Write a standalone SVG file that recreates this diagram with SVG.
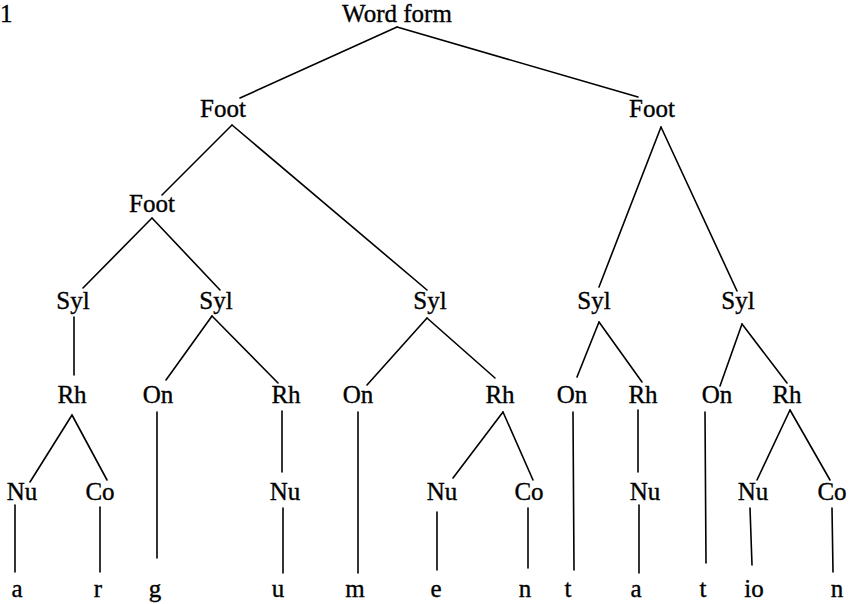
<svg xmlns="http://www.w3.org/2000/svg" width="853" height="604" viewBox="0 0 853 604">
  <style>
    text { font-family: "Liberation Serif", "Times New Roman", serif; font-size: 25px; fill: #000; stroke: #000; stroke-width: 0.35; text-anchor: middle; }
    #edges line { stroke: #000; stroke-width: 1.6; stroke-linecap: round; }
  </style>
  <rect width="853" height="604" fill="#fff"/>

  <text x="0" y="22" style="text-anchor:start">1</text>

  <!-- connectors -->
  <g id="edges">
    <line x1="397" y1="27" x2="240" y2="98"/>
    <line x1="397" y1="27" x2="638" y2="97"/>
    <line x1="232" y1="125" x2="162" y2="195"/>
    <line x1="232" y1="125" x2="427" y2="290"/>
    <line x1="661" y1="127" x2="599" y2="287"/>
    <line x1="661" y1="127" x2="737" y2="291"/>
    <line x1="152" y1="218" x2="83" y2="288"/>
    <line x1="152" y1="218" x2="220" y2="290"/>
    <line x1="74" y1="317" x2="74" y2="375"/>
    <line x1="212" y1="316" x2="166" y2="380"/>
    <line x1="212" y1="316" x2="278" y2="383"/>
    <line x1="427" y1="318" x2="367" y2="385"/>
    <line x1="427" y1="318" x2="495" y2="378"/>
    <line x1="599" y1="322" x2="577" y2="377"/>
    <line x1="599" y1="322" x2="642" y2="382"/>
    <line x1="742" y1="324" x2="720" y2="386"/>
    <line x1="742" y1="324" x2="787" y2="383"/>
    <line x1="72" y1="415" x2="30" y2="482"/>
    <line x1="72" y1="415" x2="107" y2="480"/>
    <line x1="157" y1="412" x2="157" y2="558"/>
    <line x1="282" y1="411" x2="282" y2="472"/>
    <line x1="358" y1="412" x2="358" y2="573"/>
    <line x1="503" y1="412" x2="453" y2="478"/>
    <line x1="503" y1="412" x2="533" y2="480"/>
    <line x1="573" y1="412" x2="574" y2="570"/>
    <line x1="638" y1="410" x2="638" y2="472"/>
    <line x1="705" y1="412" x2="706" y2="563"/>
    <line x1="790" y1="410" x2="757" y2="480"/>
    <line x1="790" y1="410" x2="830" y2="480"/>
    <line x1="15" y1="505" x2="15" y2="572"/>
    <line x1="100" y1="507" x2="100" y2="572"/>
    <line x1="283" y1="508" x2="283" y2="573"/>
    <line x1="437" y1="512" x2="437" y2="570"/>
    <line x1="528" y1="508" x2="528" y2="568"/>
    <line x1="639" y1="505" x2="639" y2="573"/>
    <line x1="750" y1="508" x2="752" y2="565"/>
    <line x1="832" y1="508" x2="833" y2="572"/>
  </g>

  <!-- nodes -->
  <g id="word"><text x="397" y="22">Word form</text></g>
  <g id="foot-l"><text x="223" y="117">Foot</text></g>
  <g id="foot-r"><text x="652" y="117">Foot</text></g>
  <g id="foot-inner"><text x="152" y="212">Foot</text></g>

  <g id="syl1"><text x="73" y="309">Syl</text></g>
  <g id="syl2"><text x="216" y="309">Syl</text></g>
  <g id="syl3"><text x="430" y="309">Syl</text></g>
  <g id="syl4"><text x="594" y="309">Syl</text></g>
  <g id="syl5"><text x="738" y="309">Syl</text></g>

  <g id="rh1"><text x="72" y="403">Rh</text></g>
  <g id="on2"><text x="158" y="403">On</text></g>
  <g id="rh2"><text x="286" y="403">Rh</text></g>
  <g id="on3"><text x="358" y="403">On</text></g>
  <g id="rh3"><text x="500" y="403">Rh</text></g>
  <g id="on4"><text x="572" y="403">On</text></g>
  <g id="rh4"><text x="643" y="403">Rh</text></g>
  <g id="on5"><text x="717" y="403">On</text></g>
  <g id="rh5"><text x="787" y="403">Rh</text></g>

  <g id="nu1"><text x="22" y="500">Nu</text></g>
  <g id="co1"><text x="100" y="500">Co</text></g>
  <g id="nu2"><text x="285" y="500">Nu</text></g>
  <g id="nu3"><text x="442" y="500">Nu</text></g>
  <g id="co3"><text x="529" y="500">Co</text></g>
  <g id="nu4"><text x="645" y="500">Nu</text></g>
  <g id="nu5"><text x="753" y="500">Nu</text></g>
  <g id="co5"><text x="832" y="500">Co</text></g>

  <g id="seg-a"><text x="17" y="597">a</text></g>
  <g id="seg-r"><text x="98" y="597">r</text></g>
  <g id="seg-g"><text x="155" y="597">g</text></g>
  <g id="seg-u"><text x="278" y="597">u</text></g>
  <g id="seg-m"><text x="355" y="597">m</text></g>
  <g id="seg-e"><text x="436" y="597">e</text></g>
  <g id="seg-n1"><text x="525" y="597">n</text></g>
  <g id="seg-t1"><text x="568" y="597">t</text></g>
  <g id="seg-a2"><text x="636" y="597">a</text></g>
  <g id="seg-t2"><text x="703" y="597">t</text></g>
  <g id="seg-io"><text x="754" y="597">io</text></g>
  <g id="seg-n2"><text x="837" y="597">n</text></g>
</svg>
